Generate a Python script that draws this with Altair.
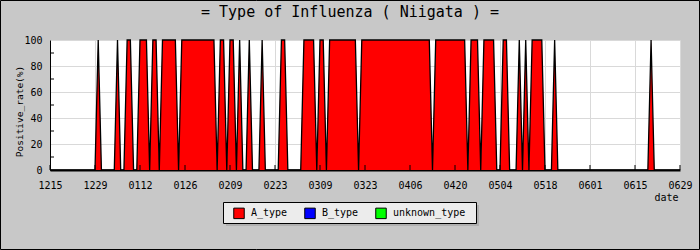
import altair as alt
import pandas as pd

# ---- data ----
tick_labels = ["1215", "1229", "0112", "0126", "0209", "0223", "0309", "0323",
               "0406", "0420", "0504", "0518", "0601", "0615", "0629"]
series_names = ["A_type", "B_type", "unknown_type"]
series_colors = ["#ff0000", "#0000ff", "#00ff00"]

# daily positive rate (%) of A_type, one value per day from 12/15 to 6/29
a_type = [
    0, 0, 0, 0, 0, 0, 0, 0, 0, 0, 0, 0, 0, 0,                         # 1215-1228
    0, 100, 0, 0, 0, 0, 0, 100, 0, 0, 100, 100, 0, 0,                 # 1229-0111
    100, 100, 100, 0, 100, 100, 0, 100, 100, 100, 100, 100, 0, 100,   # 0112-0125
    100, 100, 100, 100, 100, 100, 100, 100, 100, 100, 0, 100, 100, 0, # 0126-0208
    100, 100, 0, 100, 0, 0, 100, 0, 0, 0, 100, 0, 0, 0,               # 0209-0222
    0, 0, 100, 100, 0, 0, 0, 0, 0, 100, 100, 100, 100, 0,             # 0223-0308
    100, 100, 0, 100, 100, 100, 100, 100, 100, 100, 100, 100, 0, 100, # 0309-0322
    100, 100, 100, 100, 100, 100, 100, 100, 100, 100, 100, 100, 100, 100,  # 0323-0405
    100, 100, 100, 100, 100, 100, 100, 0, 100, 100, 100, 100, 100, 100,    # 0406-0419
    100, 100, 100, 100, 0, 100, 100, 100, 0, 100, 100, 100, 100, 0,   # 0420-0503
    0, 100, 100, 0, 0, 0, 100, 0, 100, 0, 100, 100, 100, 100,         # 0504-0517
    0, 0, 0, 100, 0, 0, 0, 0, 0, 0, 0, 0, 0, 0,                       # 0518-0531
    0, 0, 0, 0, 0, 0, 0, 0, 0, 0, 0, 0, 0, 0,                         # 0601-0614
    0, 0, 0, 0, 0, 100, 0, 0, 0, 0, 0, 0, 0, 0,                       # 0615-0628
    0,                                                                # 0629
]
y_grid_values = [0, 20, 40, 60, 80, 100]
y_minor_ticks = [10, 30, 50, 70, 90]

FONT = "DejaVu Sans Mono"
W, H = 630, 130
n_days = len(a_type)
tick_days = [14 * i for i in range(len(tick_labels))]

df = pd.DataFrame({"day": list(range(n_days)), "rate": a_type,
                   "type": ["A_type"] * n_days})
ticks_x = pd.DataFrame({"day": tick_days})
ticks_y = pd.DataFrame({"rate": y_minor_ticks})
one = pd.DataFrame({"k": [0]})

label_array = "[" + ",".join("'%s'" % t for t in tick_labels) + "]"

x_axis = alt.Axis(
    values=tick_days, labelExpr=label_array + "[round(datum.value/14)]",
    title="date", titleX=628, titleY=30, titleAlign="right",
    titleBaseline="alphabetic", titleFont=FONT, titleFontSize=10,
    titleFontWeight="normal", titleColor="black",
    labelFont=FONT, labelFontSize=10, labelColor="black", labelPadding=10,
    labelOverlap=False, ticks=False, tickSize=0, domainColor="black",
    domainWidth=2, grid=True, gridColor="#d9d9d9", gridWidth=1,
    labelFlush=False,
)
y_axis = alt.Axis(
    values=y_grid_values, title="Positive_rate(%)", titleX=-31, titleY=71,
    titleAngle=-90, titleAlign="center", titleBaseline="middle",
    titleFont=FONT, titleFontSize=9.5, titleFontWeight="normal",
    titleColor="black", labelFont=FONT, labelFontSize=10,
    labelColor="black", labelPadding=8, labelOverlap=False, ticks=False,
    tickSize=0, domainColor="black", domainWidth=1, grid=True,
    gridColor="#d9d9d9", gridWidth=1,
)
x_scale = alt.Scale(domain=[0, tick_days[-1]], nice=False, zero=False)
y_scale = alt.Scale(domain=[0, 100], nice=False)


def X():
    return alt.X("day:Q", scale=x_scale, axis=x_axis)


def Y():
    return alt.Y("rate:Q", stack=None, scale=y_scale, axis=y_axis)


frame = alt.Chart(one).mark_rect(fillOpacity=0, stroke="black", strokeWidth=1).encode(
    x=alt.value(-49.5), x2=alt.value(649.5), y=alt.value(-39.5), y2=alt.value(209.5))

legend_shadow = alt.Chart(one).mark_rect(fill="#b0b0b0").encode(
    x=alt.value(176), x2=alt.value(429), y=alt.value(165), y2=alt.value(186))
legend_box = alt.Chart(one).mark_rect(fill="#ececec", stroke="black", strokeWidth=1).encode(
    x=alt.value(173.5), x2=alt.value(426.5), y=alt.value(162.5), y2=alt.value(183.5))

area = alt.Chart(df).mark_area(interpolate="linear", opacity=1).encode(
    x=X(),
    y=Y(),
    color=alt.Color(
        "type:N",
        scale=alt.Scale(domain=series_names, range=series_colors),
        legend=alt.Legend(
            orient="none", legendX=183, legendY=167, direction="horizontal",
            title=None, symbolType="square", symbolSize=110,
            symbolStrokeColor="black", symbolStrokeWidth=1, symbolOpacity=1,
            labelFont=FONT, labelFontSize=10, labelColor="black",
            labelOffset=6, columnPadding=14, padding=0,
        ),
    ),
)

line = alt.Chart(df).mark_line(color="black", strokeWidth=1.3, interpolate="linear").encode(
    x=X(), y=Y())

x_ticks = alt.Chart(ticks_x).mark_rule(color="black", strokeWidth=1).encode(
    x=X(), y=alt.value(H), y2=alt.value(H - 5))
y_ticks = alt.Chart(ticks_y).mark_rule(color="black", strokeWidth=1).encode(
    y=Y(), x=alt.value(0), x2=alt.value(4))

chart = alt.layer(frame, legend_shadow, legend_box, area, line, x_ticks, y_ticks).properties(
    width=W, height=H,
    padding={"left": 50, "top": 40, "right": 20, "bottom": 80},
    autosize=alt.AutoSizeParams(type="none"),
    background="#c8c8c8",
    title=alt.TitleParams(
        text="= Type of Influenza ( Niigata ) =", font=FONT, fontSize=15,
        fontWeight="normal", color="black", anchor="middle", dx=-15, offset=-20,
    ),
).configure_view(fill="white", stroke=None)

chart.save("out.html", embed_options={"renderer": "svg", "actions": False})
